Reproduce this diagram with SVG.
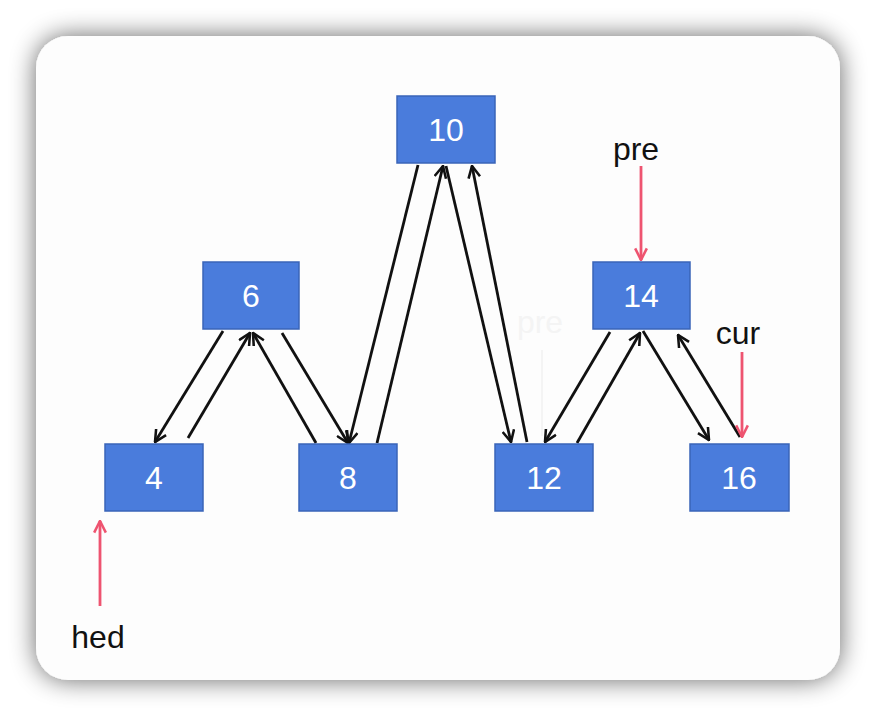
<svg xmlns="http://www.w3.org/2000/svg" width="876" height="716" viewBox="0 0 876 716">
<defs>
<filter id="sh" x="-10%" y="-10%" width="120%" height="120%">
<feGaussianBlur in="SourceAlpha" stdDeviation="13"/>
<feOffset dx="0" dy="0"/>
<feComponentTransfer><feFuncA type="linear" slope="0.6"/></feComponentTransfer>
<feMerge><feMergeNode/><feMergeNode in="SourceGraphic"/></feMerge>
</filter>
<marker id="ah" viewBox="0 0 12 12" refX="11" refY="6" markerWidth="14" markerHeight="14" markerUnits="userSpaceOnUse" orient="auto">
<path d="M1,1 L11,6 L1,11" fill="none" stroke="#111" stroke-width="2.2"/>
</marker>
<marker id="ahr" viewBox="0 0 12 12" refX="11" refY="6" markerWidth="14" markerHeight="14" markerUnits="userSpaceOnUse" orient="auto">
<path d="M1,1 L11,6 L1,11" fill="none" stroke="#ee5470" stroke-width="2.2"/>
</marker>
</defs>
<style>
.node rect{fill:#4a7cdc;stroke:#3a64b8;stroke-width:1.5}
.node text{fill:#fff;font-family:"Liberation Sans",Arial,sans-serif;font-size:32px;text-anchor:middle}
.c{stroke:#111;stroke-width:2.8;fill:none;marker-end:url(#ah)}
.r{stroke:#ee5470;stroke-width:2.8;fill:none;marker-end:url(#ahr)}
.lbl{fill:#111;font-family:"Liberation Sans",Arial,sans-serif;font-size:32px;text-anchor:middle}
</style>
<rect width="876" height="716" fill="#ffffff"/>
<rect x="36" y="36" width="804" height="644" rx="32" fill="#fdfdfd" filter="url(#sh)"/>
<text x="540" y="333" fill="#f4f4f4" font-family="Liberation Sans, Arial, sans-serif" font-size="32" text-anchor="middle">pre</text>
<line x1="542" y1="350" x2="542" y2="436" stroke="#f4f4f4" stroke-width="2"/>
<g id="connectors">
<line class="c" x1="223" y1="331" x2="155" y2="442"/>
<line class="c" x1="188" y1="438" x2="250" y2="333"/>
<line class="c" x1="316" y1="443" x2="253" y2="333"/>
<line class="c" x1="282" y1="333" x2="348" y2="443"/>
<line class="c" x1="418" y1="165" x2="349" y2="443"/>
<line class="c" x1="377" y1="443" x2="443" y2="166"/>
<line class="c" x1="446" y1="166" x2="511" y2="442"/>
<line class="c" x1="527" y1="442" x2="472" y2="166"/>
<line class="c" x1="610" y1="332" x2="545" y2="442"/>
<line class="c" x1="577" y1="443" x2="640" y2="333"/>
<line class="c" x1="643" y1="331" x2="709" y2="440"/>
<line class="c" x1="740" y1="437" x2="678" y2="335"/>
<line class="r" x1="641" y1="166" x2="641" y2="260"/>
<line class="r" x1="742" y1="352" x2="742" y2="437"/>
<line class="r" x1="100" y1="606" x2="100" y2="521"/>
</g>
<g id="n10" class="node"><rect x="397" y="96" width="98" height="67"/><text x="446" y="141">10</text></g>
<g id="n6" class="node"><rect x="203" y="262" width="96" height="67"/><text x="251" y="307">6</text></g>
<g id="n14" class="node"><rect x="593" y="262" width="97" height="67"/><text x="641" y="307">14</text></g>
<g id="n4" class="node"><rect x="105" y="444" width="98" height="67"/><text x="154" y="489">4</text></g>
<g id="n8" class="node"><rect x="299" y="444" width="98" height="67"/><text x="348" y="489">8</text></g>
<g id="n12" class="node"><rect x="495" y="444" width="98" height="67"/><text x="544" y="489">12</text></g>
<g id="n16" class="node"><rect x="690" y="444" width="99" height="67"/><text x="739" y="489">16</text></g>
<g id="lpre"><text class="lbl" x="636" y="160">pre</text></g>
<g id="lcur"><text class="lbl" x="738" y="344">cur</text></g>
<g id="lhed"><text class="lbl" x="98" y="648">hed</text></g>
</svg>
